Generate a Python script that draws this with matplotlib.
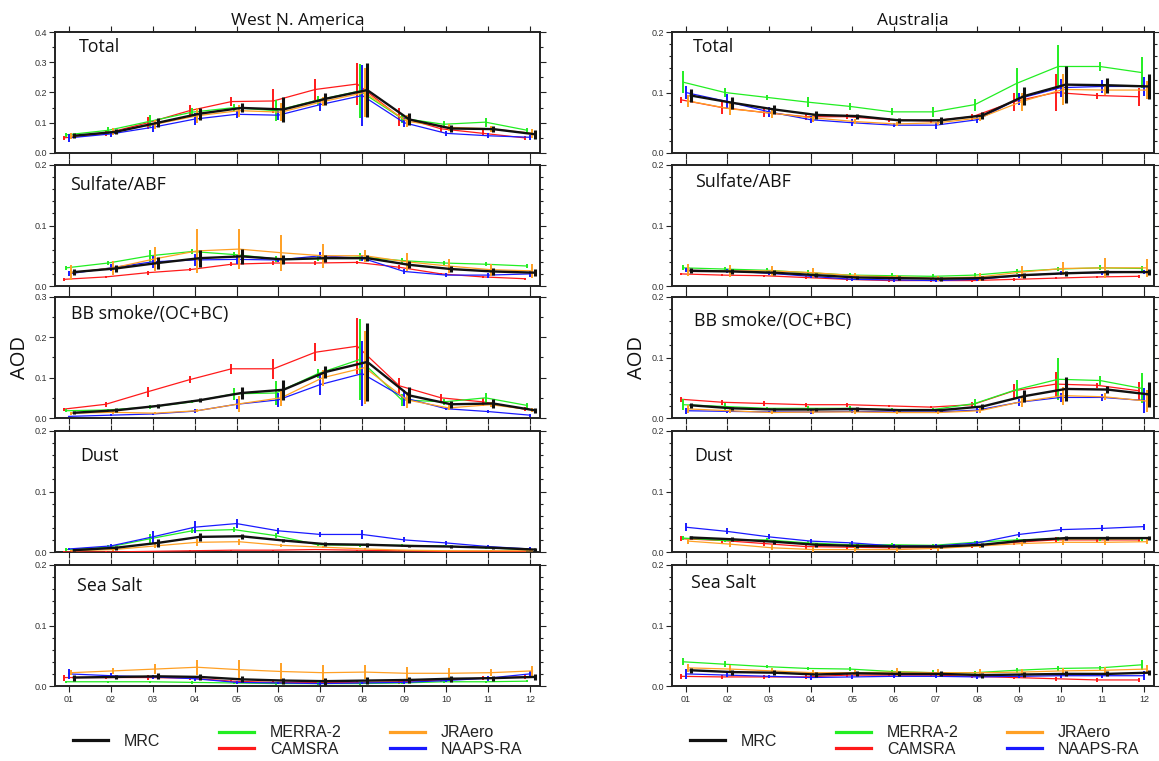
import matplotlib
matplotlib.use("Agg")
import matplotlib.pyplot as plt
from matplotlib.ticker import MultipleLocator, FormatStrFormatter
from matplotlib.lines import Line2D

# ---------------- data ----------------
months = list(range(1, 13))
month_labels = ["01", "02", "03", "04", "05", "06", "07", "08", "09", "10", "11", "12"]
regions = ["West N. America", "Australia"]
components = ["Total", "Sulfate/ABF", "BB smoke/(OC+BC)", "Dust", "Sea Salt"]
ymax_wna = [0.4, 0.2, 0.3, 0.2, 0.2]
ymax_aus = [0.2, 0.2, 0.2, 0.2, 0.2]
series = ["CAMSRA", "MERRA-2", "NAAPS-RA", "JRAero", "MRC"]

# --- West N. America ---
wna_total_camsra = [0.050, 0.065, 0.100, 0.140, 0.170, 0.172, 0.210, 0.228, 0.120, 0.080, 0.065, 0.050]
wna_total_camsra_err = [0.006, 0.008, 0.020, 0.020, 0.015, 0.040, 0.035, 0.070, 0.030, 0.012, 0.010, 0.006]
wna_total_merra2 = [0.060, 0.075, 0.105, 0.135, 0.150, 0.140, 0.175, 0.205, 0.115, 0.095, 0.102, 0.075]
wna_total_merra2_err = [0.006, 0.012, 0.020, 0.015, 0.012, 0.035, 0.015, 0.090, 0.015, 0.012, 0.015, 0.006]
wna_total_naaps = [0.050, 0.063, 0.085, 0.112, 0.128, 0.125, 0.160, 0.190, 0.100, 0.065, 0.057, 0.052]
wna_total_naaps_err = [0.012, 0.010, 0.015, 0.020, 0.012, 0.015, 0.020, 0.100, 0.015, 0.008, 0.008, 0.008]
wna_total_jraero = [0.055, 0.070, 0.095, 0.123, 0.140, 0.135, 0.170, 0.200, 0.105, 0.085, 0.080, 0.065]
wna_total_jraero_err = [0.010, 0.012, 0.015, 0.025, 0.020, 0.030, 0.015, 0.080, 0.020, 0.012, 0.010, 0.015]
wna_total_mrc = [0.057, 0.070, 0.100, 0.130, 0.149, 0.144, 0.179, 0.208, 0.111, 0.081, 0.079, 0.062]
wna_total_mrc_err = [0.008, 0.008, 0.015, 0.020, 0.015, 0.040, 0.020, 0.090, 0.020, 0.010, 0.010, 0.015]

wna_sulf_camsra = [0.011, 0.015, 0.022, 0.027, 0.036, 0.038, 0.038, 0.039, 0.031, 0.020, 0.015, 0.012]
wna_sulf_camsra_err = [0.002, 0.002, 0.003, 0.003, 0.003, 0.003, 0.003, 0.003, 0.003, 0.002, 0.002, 0.002]
wna_sulf_merra2 = [0.030, 0.038, 0.050, 0.057, 0.052, 0.045, 0.045, 0.048, 0.042, 0.038, 0.036, 0.033]
wna_sulf_merra2_err = [0.003, 0.004, 0.010, 0.004, 0.004, 0.005, 0.004, 0.006, 0.004, 0.004, 0.003, 0.003]
wna_sulf_naaps = [0.020, 0.030, 0.040, 0.043, 0.044, 0.043, 0.050, 0.046, 0.024, 0.018, 0.018, 0.020]
wna_sulf_naaps_err = [0.004, 0.006, 0.010, 0.010, 0.008, 0.004, 0.006, 0.005, 0.004, 0.003, 0.004, 0.005]
wna_sulf_jraero = [0.022, 0.030, 0.045, 0.058, 0.061, 0.055, 0.050, 0.050, 0.040, 0.033, 0.027, 0.025]
wna_sulf_jraero_err = [0.012, 0.012, 0.020, 0.037, 0.033, 0.030, 0.020, 0.010, 0.015, 0.012, 0.010, 0.012]
wna_sulf_mrc = [0.023, 0.029, 0.038, 0.046, 0.049, 0.044, 0.046, 0.046, 0.035, 0.028, 0.024, 0.022]
wna_sulf_mrc_err = [0.005, 0.006, 0.010, 0.014, 0.012, 0.008, 0.006, 0.005, 0.006, 0.005, 0.005, 0.006]

wna_bb_camsra = [0.022, 0.034, 0.065, 0.095, 0.122, 0.122, 0.163, 0.178, 0.080, 0.050, 0.040, 0.022]
wna_bb_camsra_err = [0.004, 0.006, 0.012, 0.008, 0.012, 0.025, 0.022, 0.070, 0.020, 0.010, 0.010, 0.005]
wna_bb_merra2 = [0.018, 0.020, 0.027, 0.040, 0.060, 0.062, 0.110, 0.145, 0.045, 0.040, 0.050, 0.031]
wna_bb_merra2_err = [0.004, 0.003, 0.004, 0.004, 0.015, 0.030, 0.012, 0.100, 0.015, 0.008, 0.012, 0.005]
wna_bb_naaps = [0.004, 0.007, 0.010, 0.017, 0.034, 0.045, 0.083, 0.110, 0.050, 0.023, 0.016, 0.007]
wna_bb_naaps_err = [0.002, 0.002, 0.003, 0.005, 0.012, 0.018, 0.025, 0.080, 0.020, 0.004, 0.004, 0.004]
wna_bb_jraero = [0.012, 0.014, 0.012, 0.018, 0.035, 0.050, 0.100, 0.125, 0.045, 0.025, 0.033, 0.020]
wna_bb_jraero_err = [0.004, 0.004, 0.003, 0.004, 0.020, 0.020, 0.020, 0.090, 0.020, 0.006, 0.006, 0.004]
wna_bb_mrc = [0.013, 0.019, 0.030, 0.044, 0.062, 0.070, 0.114, 0.139, 0.056, 0.034, 0.036, 0.019]
wna_bb_mrc_err = [0.004, 0.005, 0.004, 0.005, 0.015, 0.025, 0.015, 0.097, 0.020, 0.008, 0.010, 0.006]

wna_dust_camsra = [0.000, 0.000, 0.001, 0.002, 0.003, 0.003, 0.004, 0.003, 0.002, 0.001, 0.001, 0.001]
wna_dust_camsra_err = [0.001, 0.001, 0.001, 0.001, 0.001, 0.001, 0.001, 0.001, 0.001, 0.001, 0.001, 0.001]
wna_dust_merra2 = [0.004, 0.008, 0.022, 0.035, 0.037, 0.027, 0.012, 0.011, 0.011, 0.010, 0.007, 0.004]
wna_dust_merra2_err = [0.002, 0.003, 0.008, 0.004, 0.004, 0.004, 0.002, 0.003, 0.002, 0.002, 0.002, 0.002]
wna_dust_naaps = [0.005, 0.010, 0.025, 0.041, 0.047, 0.035, 0.029, 0.029, 0.020, 0.015, 0.009, 0.005]
wna_dust_naaps_err = [0.002, 0.003, 0.010, 0.010, 0.007, 0.005, 0.004, 0.008, 0.004, 0.004, 0.003, 0.003]
wna_dust_jraero = [0.002, 0.004, 0.010, 0.016, 0.017, 0.011, 0.008, 0.005, 0.003, 0.002, 0.002, 0.002]
wna_dust_jraero_err = [0.001, 0.002, 0.004, 0.006, 0.005, 0.003, 0.002, 0.002, 0.001, 0.001, 0.001, 0.001]
wna_dust_mrc = [0.003, 0.007, 0.015, 0.025, 0.026, 0.019, 0.013, 0.012, 0.010, 0.009, 0.007, 0.004]
wna_dust_mrc_err = [0.002, 0.003, 0.006, 0.006, 0.004, 0.003, 0.003, 0.003, 0.002, 0.002, 0.002, 0.002]

wna_salt_camsra = [0.014, 0.014, 0.014, 0.013, 0.008, 0.006, 0.006, 0.006, 0.007, 0.010, 0.013, 0.015]
wna_salt_camsra_err = [0.005, 0.003, 0.004, 0.003, 0.002, 0.002, 0.002, 0.002, 0.003, 0.003, 0.003, 0.003]
wna_salt_merra2 = [0.007, 0.007, 0.007, 0.006, 0.005, 0.004, 0.004, 0.004, 0.005, 0.007, 0.007, 0.008]
wna_salt_merra2_err = [0.002, 0.002, 0.002, 0.002, 0.002, 0.002, 0.002, 0.002, 0.002, 0.002, 0.002, 0.002]
wna_salt_naaps = [0.020, 0.017, 0.015, 0.012, 0.006, 0.005, 0.004, 0.005, 0.006, 0.009, 0.013, 0.020]
wna_salt_naaps_err = [0.008, 0.004, 0.004, 0.003, 0.002, 0.002, 0.002, 0.002, 0.002, 0.003, 0.004, 0.005]
wna_salt_jraero = [0.022, 0.025, 0.028, 0.031, 0.027, 0.024, 0.022, 0.023, 0.021, 0.021, 0.022, 0.025]
wna_salt_jraero_err = [0.004, 0.005, 0.008, 0.012, 0.016, 0.014, 0.013, 0.012, 0.010, 0.008, 0.006, 0.008]
wna_salt_mrc = [0.014, 0.015, 0.016, 0.015, 0.011, 0.009, 0.008, 0.009, 0.010, 0.012, 0.013, 0.015]
wna_salt_mrc_err = [0.005, 0.004, 0.005, 0.005, 0.005, 0.005, 0.006, 0.006, 0.005, 0.005, 0.004, 0.005]

# --- Australia ---
aus_total_camsra = [0.088, 0.075, 0.067, 0.060, 0.060, 0.055, 0.053, 0.060, 0.085, 0.100, 0.095, 0.093]
aus_total_camsra_err = [0.005, 0.010, 0.008, 0.006, 0.004, 0.003, 0.003, 0.005, 0.015, 0.030, 0.005, 0.015]
aus_total_merra2 = [0.117, 0.100, 0.092, 0.084, 0.077, 0.068, 0.068, 0.080, 0.115, 0.143, 0.143, 0.133]
aus_total_merra2_err = [0.018, 0.008, 0.004, 0.008, 0.006, 0.006, 0.008, 0.010, 0.025, 0.035, 0.008, 0.025]
aus_total_naaps = [0.100, 0.085, 0.068, 0.055, 0.050, 0.046, 0.046, 0.055, 0.090, 0.108, 0.110, 0.110]
aus_total_naaps_err = [0.010, 0.012, 0.008, 0.006, 0.006, 0.003, 0.006, 0.006, 0.010, 0.015, 0.010, 0.015]
aus_total_jraero = [0.086, 0.073, 0.066, 0.058, 0.052, 0.048, 0.050, 0.058, 0.085, 0.105, 0.104, 0.104]
aus_total_jraero_err = [0.010, 0.010, 0.008, 0.006, 0.004, 0.003, 0.004, 0.005, 0.015, 0.025, 0.008, 0.015]
aus_total_mrc = [0.095, 0.083, 0.072, 0.063, 0.061, 0.054, 0.054, 0.062, 0.094, 0.113, 0.112, 0.110]
aus_total_mrc_err = [0.010, 0.010, 0.008, 0.006, 0.004, 0.004, 0.006, 0.006, 0.015, 0.030, 0.012, 0.020]

aus_sulf_camsra = [0.020, 0.018, 0.017, 0.014, 0.011, 0.009, 0.009, 0.009, 0.011, 0.013, 0.015, 0.016]
aus_sulf_camsra_err = [0.002, 0.002, 0.002, 0.002, 0.002, 0.002, 0.002, 0.002, 0.002, 0.002, 0.002, 0.002]
aus_sulf_merra2 = [0.030, 0.028, 0.026, 0.022, 0.018, 0.017, 0.016, 0.018, 0.024, 0.028, 0.030, 0.029]
aus_sulf_merra2_err = [0.004, 0.004, 0.004, 0.004, 0.004, 0.004, 0.004, 0.004, 0.004, 0.004, 0.004, 0.004]
aus_sulf_naaps = [0.026, 0.025, 0.021, 0.016, 0.011, 0.010, 0.009, 0.011, 0.017, 0.021, 0.022, 0.023]
aus_sulf_naaps_err = [0.003, 0.003, 0.003, 0.003, 0.003, 0.003, 0.003, 0.003, 0.003, 0.003, 0.003, 0.003]
aus_sulf_jraero = [0.026, 0.025, 0.025, 0.022, 0.017, 0.015, 0.013, 0.015, 0.023, 0.029, 0.030, 0.030]
aus_sulf_jraero_err = [0.010, 0.010, 0.008, 0.007, 0.005, 0.004, 0.004, 0.006, 0.010, 0.010, 0.016, 0.015]
aus_sulf_mrc = [0.025, 0.024, 0.022, 0.018, 0.014, 0.013, 0.012, 0.013, 0.018, 0.021, 0.023, 0.023]
aus_sulf_mrc_err = [0.004, 0.004, 0.004, 0.003, 0.003, 0.003, 0.003, 0.003, 0.004, 0.004, 0.004, 0.005]

aus_bb_camsra = [0.031, 0.026, 0.024, 0.022, 0.022, 0.020, 0.018, 0.022, 0.045, 0.056, 0.054, 0.045]
aus_bb_camsra_err = [0.004, 0.004, 0.004, 0.003, 0.003, 0.002, 0.002, 0.004, 0.012, 0.020, 0.004, 0.015]
aus_bb_merra2 = [0.022, 0.019, 0.016, 0.016, 0.016, 0.014, 0.014, 0.024, 0.047, 0.064, 0.062, 0.049]
aus_bb_merra2_err = [0.009, 0.005, 0.003, 0.004, 0.004, 0.003, 0.003, 0.007, 0.015, 0.035, 0.008, 0.025]
aus_bb_naaps = [0.012, 0.011, 0.010, 0.010, 0.011, 0.010, 0.010, 0.013, 0.026, 0.034, 0.034, 0.029]
aus_bb_naaps_err = [0.005, 0.003, 0.002, 0.003, 0.003, 0.002, 0.002, 0.004, 0.006, 0.008, 0.006, 0.020]
aus_bb_jraero = [0.015, 0.012, 0.009, 0.010, 0.010, 0.009, 0.009, 0.012, 0.027, 0.037, 0.035, 0.028]
aus_bb_jraero_err = [0.006, 0.004, 0.002, 0.003, 0.003, 0.002, 0.002, 0.004, 0.008, 0.015, 0.006, 0.018]
aus_bb_mrc = [0.021, 0.016, 0.014, 0.014, 0.015, 0.013, 0.013, 0.019, 0.036, 0.048, 0.047, 0.039]
aus_bb_mrc_err = [0.004, 0.003, 0.002, 0.002, 0.003, 0.002, 0.002, 0.004, 0.010, 0.020, 0.006, 0.020]

aus_dust_camsra = [0.022, 0.019, 0.014, 0.009, 0.008, 0.007, 0.007, 0.010, 0.016, 0.020, 0.020, 0.020]
aus_dust_camsra_err = [0.004, 0.004, 0.004, 0.004, 0.004, 0.004, 0.004, 0.004, 0.004, 0.004, 0.004, 0.004]
aus_dust_merra2 = [0.023, 0.019, 0.020, 0.015, 0.012, 0.012, 0.011, 0.016, 0.020, 0.022, 0.022, 0.022]
aus_dust_merra2_err = [0.003, 0.003, 0.003, 0.003, 0.003, 0.003, 0.003, 0.003, 0.003, 0.003, 0.003, 0.003]
aus_dust_naaps = [0.041, 0.034, 0.025, 0.018, 0.015, 0.010, 0.010, 0.015, 0.029, 0.037, 0.039, 0.042]
aus_dust_naaps_err = [0.007, 0.005, 0.004, 0.003, 0.003, 0.003, 0.003, 0.004, 0.004, 0.004, 0.005, 0.005]
aus_dust_jraero = [0.018, 0.013, 0.007, 0.004, 0.004, 0.004, 0.006, 0.010, 0.014, 0.016, 0.016, 0.017]
aus_dust_jraero_err = [0.004, 0.004, 0.004, 0.004, 0.004, 0.004, 0.004, 0.004, 0.004, 0.004, 0.004, 0.004]
aus_dust_mrc = [0.024, 0.021, 0.017, 0.012, 0.010, 0.009, 0.009, 0.012, 0.019, 0.023, 0.023, 0.023]
aus_dust_mrc_err = [0.003, 0.003, 0.003, 0.003, 0.003, 0.003, 0.003, 0.003, 0.003, 0.003, 0.003, 0.003]

aus_salt_camsra = [0.016, 0.015, 0.015, 0.015, 0.018, 0.018, 0.018, 0.016, 0.014, 0.012, 0.010, 0.010]
aus_salt_camsra_err = [0.004, 0.003, 0.003, 0.003, 0.003, 0.003, 0.003, 0.003, 0.003, 0.003, 0.003, 0.003]
aus_salt_merra2 = [0.040, 0.036, 0.032, 0.029, 0.028, 0.024, 0.022, 0.022, 0.026, 0.029, 0.030, 0.035]
aus_salt_merra2_err = [0.006, 0.005, 0.003, 0.003, 0.004, 0.003, 0.004, 0.003, 0.004, 0.004, 0.003, 0.008]
aus_salt_naaps = [0.020, 0.018, 0.016, 0.014, 0.015, 0.016, 0.016, 0.015, 0.016, 0.017, 0.017, 0.017]
aus_salt_naaps_err = [0.008, 0.003, 0.003, 0.004, 0.003, 0.003, 0.003, 0.003, 0.003, 0.003, 0.003, 0.007]
aus_salt_jraero = [0.030, 0.028, 0.025, 0.022, 0.022, 0.023, 0.022, 0.022, 0.023, 0.025, 0.026, 0.028]
aus_salt_jraero_err = [0.007, 0.006, 0.004, 0.005, 0.004, 0.006, 0.006, 0.006, 0.005, 0.005, 0.005, 0.006]
aus_salt_mrc = [0.026, 0.023, 0.022, 0.019, 0.021, 0.020, 0.020, 0.018, 0.019, 0.020, 0.020, 0.022]
aus_salt_mrc_err = [0.004, 0.004, 0.004, 0.004, 0.004, 0.004, 0.004, 0.004, 0.004, 0.004, 0.004, 0.004]

# ---------------- assemble ----------------
wna_panels = [
    [(wna_total_camsra, wna_total_camsra_err), (wna_total_merra2, wna_total_merra2_err),
     (wna_total_naaps, wna_total_naaps_err), (wna_total_jraero, wna_total_jraero_err),
     (wna_total_mrc, wna_total_mrc_err)],
    [(wna_sulf_camsra, wna_sulf_camsra_err), (wna_sulf_merra2, wna_sulf_merra2_err),
     (wna_sulf_naaps, wna_sulf_naaps_err), (wna_sulf_jraero, wna_sulf_jraero_err),
     (wna_sulf_mrc, wna_sulf_mrc_err)],
    [(wna_bb_camsra, wna_bb_camsra_err), (wna_bb_merra2, wna_bb_merra2_err),
     (wna_bb_naaps, wna_bb_naaps_err), (wna_bb_jraero, wna_bb_jraero_err),
     (wna_bb_mrc, wna_bb_mrc_err)],
    [(wna_dust_camsra, wna_dust_camsra_err), (wna_dust_merra2, wna_dust_merra2_err),
     (wna_dust_naaps, wna_dust_naaps_err), (wna_dust_jraero, wna_dust_jraero_err),
     (wna_dust_mrc, wna_dust_mrc_err)],
    [(wna_salt_camsra, wna_salt_camsra_err), (wna_salt_merra2, wna_salt_merra2_err),
     (wna_salt_naaps, wna_salt_naaps_err), (wna_salt_jraero, wna_salt_jraero_err),
     (wna_salt_mrc, wna_salt_mrc_err)],
]
aus_panels = [
    [(aus_total_camsra, aus_total_camsra_err), (aus_total_merra2, aus_total_merra2_err),
     (aus_total_naaps, aus_total_naaps_err), (aus_total_jraero, aus_total_jraero_err),
     (aus_total_mrc, aus_total_mrc_err)],
    [(aus_sulf_camsra, aus_sulf_camsra_err), (aus_sulf_merra2, aus_sulf_merra2_err),
     (aus_sulf_naaps, aus_sulf_naaps_err), (aus_sulf_jraero, aus_sulf_jraero_err),
     (aus_sulf_mrc, aus_sulf_mrc_err)],
    [(aus_bb_camsra, aus_bb_camsra_err), (aus_bb_merra2, aus_bb_merra2_err),
     (aus_bb_naaps, aus_bb_naaps_err), (aus_bb_jraero, aus_bb_jraero_err),
     (aus_bb_mrc, aus_bb_mrc_err)],
    [(aus_dust_camsra, aus_dust_camsra_err), (aus_dust_merra2, aus_dust_merra2_err),
     (aus_dust_naaps, aus_dust_naaps_err), (aus_dust_jraero, aus_dust_jraero_err),
     (aus_dust_mrc, aus_dust_mrc_err)],
    [(aus_salt_camsra, aus_salt_camsra_err), (aus_salt_merra2, aus_salt_merra2_err),
     (aus_salt_naaps, aus_salt_naaps_err), (aus_salt_jraero, aus_salt_jraero_err),
     (aus_salt_mrc, aus_salt_mrc_err)],
]

# ---------------- style ----------------
colors = {"CAMSRA": "#ff1a1a", "MERRA-2": "#22ee22", "NAAPS-RA": "#1a1aff",
          "JRAero": "#ffa024", "MRC": "#111111"}
offsets = {"CAMSRA": -0.12, "MERRA-2": -0.06, "NAAPS-RA": 0.0, "JRAero": 0.06, "MRC": 0.12}
line_w = {"CAMSRA": 0.9, "MERRA-2": 0.9, "NAAPS-RA": 0.9, "JRAero": 0.9, "MRC": 1.7}
bar_w = {"CAMSRA": 1.4, "MERRA-2": 1.4, "NAAPS-RA": 1.4, "JRAero": 1.4, "MRC": 2.2}

label_font = ["Open Sans", "DejaVu Sans"]
tick_font = ["Liberation Sans", "DejaVu Sans"]

W, H = 1159, 761
fig = plt.figure(figsize=(W / 100, H / 100), dpi=100)

col_left_px = [55, 672]
col_width_px = [485, 482]
row_top_px = [32, 165, 297, 431, 565]
row_h_px = 121
label_pos = [
    [(0.050, 0.88), (0.031, 0.835), (0.034, 0.86), (0.052, 0.79), (0.046, 0.83)],
    [(0.044, 0.88), (0.048, 0.86), (0.045, 0.80), (0.046, 0.79), (0.040, 0.85)],
]

all_panels = [wna_panels, aus_panels]
all_ymax = [ymax_wna, ymax_aus]

for c in range(2):
    for r in range(5):
        left = col_left_px[c] / W
        bottom = 1 - (row_top_px[r] + row_h_px) / H
        ax = fig.add_axes([left, bottom, col_width_px[c] / W, row_h_px / H])
        panel = all_panels[c][r]
        for name, (vals, errs) in zip(series, panel):
            xs = [m + offsets[name] for m in months]
            z = 5 if name == "MRC" else 3
            ax.plot(xs, vals, color=colors[name], lw=line_w[name], zorder=z)
            ax.errorbar(xs, vals, yerr=errs, fmt="none", ecolor=colors[name],
                        elinewidth=bar_w[name], capsize=0, zorder=z)
        ymax = all_ymax[c][r]
        ax.set_xlim(0.67, 12.24)
        ax.set_ylim(0, ymax)
        ax.yaxis.set_major_locator(MultipleLocator(0.1))
        ax.yaxis.set_minor_locator(MultipleLocator(0.05 if ymax > 0.25 else 0.02))
        ax.yaxis.set_major_formatter(FormatStrFormatter("%.1f"))
        ax.set_xticks(months)
        if r == 4:
            ax.set_xticklabels(month_labels)
        else:
            ax.set_xticklabels([])
        ax.tick_params(axis="both", which="both", direction="out", top=True, right=True,
                       labelsize=6.5, colors="#222222", width=0.8, pad=2,
                       labelcolor="#333333")
        ax.tick_params(axis="x", which="major", length=4.5)
        ax.tick_params(axis="y", which="major", length=4)
        ax.tick_params(axis="y", which="minor", length=2.5)
        for lab in ax.get_xticklabels() + ax.get_yticklabels():
            lab.set_family(tick_font)
        for sp in ax.spines.values():
            sp.set_linewidth(1.4)
            sp.set_color("#222222")
        lx, ly = label_pos[c][r]
        ax.text(lx, ly, components[r], transform=ax.transAxes, ha="left", va="center",
                fontsize=12.8, family=label_font, color="#111111")
        if r == 0:
            ax.set_title(regions[c], fontsize=12.5, family=label_font, pad=5, color="#111111")
        if r == 2:
            ax.set_ylabel("AOD", fontsize=14.5, family=label_font, labelpad=3, color="#111111")

# ---------------- legends ----------------
def handle(name):
    return Line2D([], [], color=colors[name], lw=2.3)

legend_kw = dict(frameon=False, handlelength=2.2, handletextpad=1.0,
                 labelspacing=0.1, borderaxespad=0, borderpad=0,
                 prop={"family": tick_font, "size": 11.5})
for c in range(2):
    base = col_left_px[c]
    specs = [(["MRC"], 18), (["MERRA-2", "CAMSRA"], 164), (["JRAero", "NAAPS-RA"], 335)]
    for names, dx in specs:
        leg = fig.legend([handle(n) for n in names], names, loc="center left",
                         bbox_to_anchor=((base + dx) / W, 1 - 741 / H), **legend_kw)
        for t in leg.get_texts():
            t.set_color("#222222")

fig.savefig("out.png", dpi=100)
